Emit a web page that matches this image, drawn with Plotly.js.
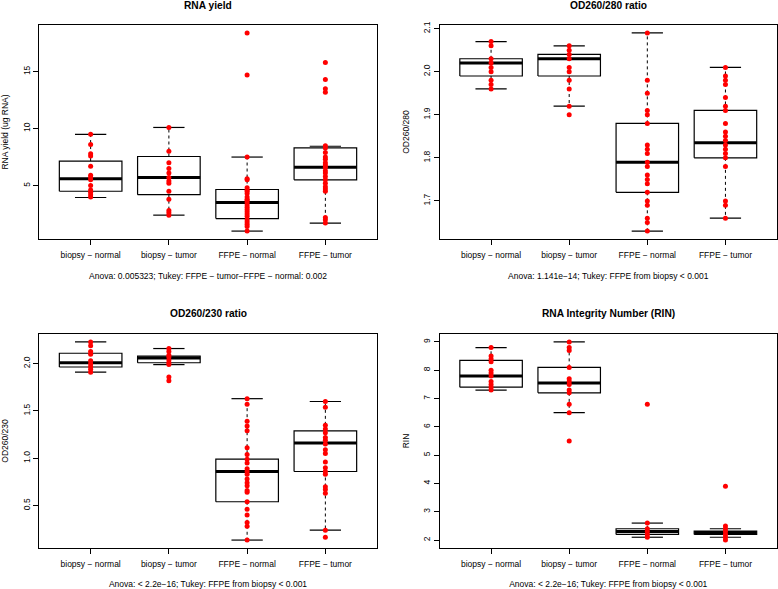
<!DOCTYPE html>
<html>
<head>
<meta charset="utf-8">
<script src="https://cdn.plot.ly/plotly-3.0.1.min.js"></script>
<style>html,body{margin:0;padding:0;background:#fff;}#chart{width:778px;height:589px;}</style>
</head>
<body>
<div id="chart"></div>
<script>
// ---------- data ----------
const categories = ["biopsy \u2212 normal", "biopsy \u2212 tumor", "FFPE \u2212 normal", "FFPE \u2212 tumor"];

const panelTitles = ["RNA yield", "OD260/280 ratio", "OD260/230 ratio", "RNA Integrity Number (RIN)"];
const yTitles = ["RNA yield (ug RNA)", "OD260/280", "OD260/230", "RIN"];
const captions = [
  "Anova: 0.005323; Tukey: FFPE \u2212 tumor\u2212FFPE \u2212 normal: 0.002",
  "Anova: 1.141e\u221214; Tukey: FFPE from biopsy < 0.001",
  "Anova: < 2.2e\u221216; Tukey: FFPE from biopsy < 0.001",
  "Anova: < 2.2e\u221216; Tukey: FFPE from biopsy < 0.001"
];

// RNA yield
const yield_bn = [9.5, 8.6, 7.8, 7.6, 6.7, 5.9, 5.7, 5.5, 5.0, 4.6, 4.4, 4.2, 4.0];
const yield_bt = [10.1, 8.0, 7.0, 6.5, 6.1, 5.7, 5.4, 5.2, 4.5, 3.8, 2.8, 2.6, 2.4];
const yield_fn = [18.4, 14.7, 7.5, 5.6, 5.5, 4.8, 4.6, 4.5, 4.3, 4.0, 3.8, 3.7, 3.5, 3.3, 3.1, 2.9, 2.7, 2.5, 2.3, 2.0, 1.8, 1.6, 1.4, 1.0];
const yield_ft = [15.8, 14.3, 13.5, 13.2, 8.5, 8.3, 7.9, 7.5, 7.3, 7.0, 6.8, 6.6, 6.3, 6.1, 5.8, 5.5, 5.2, 4.9, 4.7, 4.5, 2.2, 2.0, 1.7];
const yield_q1  = [4.5, 4.2, 2.1, 5.5];
const yield_med = [5.6, 5.7, 3.5, 6.6];
const yield_q3  = [7.15, 7.55, 4.65, 8.3];
const yield_lo  = [3.95, 2.4, 1.0, 1.7];
const yield_hi  = [9.5, 10.1, 7.5, 8.45];

// OD260/280
const r280_bn = [2.07, 2.06, 2.03, 2.02, 2.01, 2.00, 1.98, 1.97, 1.96];
const r280_bt = [2.06, 2.05, 2.04, 2.03, 2.01, 2.00, 1.98, 1.96, 1.92, 1.90];
const r280_fn = [2.09, 1.98, 1.95, 1.91, 1.90, 1.88, 1.83, 1.82, 1.81, 1.79, 1.78, 1.76, 1.75, 1.74, 1.72, 1.70, 1.69, 1.66, 1.65, 1.63];
const r280_ft = [2.01, 1.99, 1.98, 1.97, 1.94, 1.92, 1.91, 1.88, 1.86, 1.85, 1.84, 1.83, 1.82, 1.81, 1.80, 1.78, 1.70, 1.69, 1.66];
const r280_q1  = [1.99, 1.99, 1.72, 1.80];
const r280_med = [2.02, 2.03, 1.79, 1.835];
const r280_q3  = [2.03, 2.04, 1.88, 1.91];
const r280_lo  = [1.96, 1.92, 1.63, 1.66];
const r280_hi  = [2.07, 2.06, 2.09, 2.01];

// OD260/230
const r230_bn = [2.23, 2.19, 2.13, 2.10, 2.03, 2.00, 1.97, 1.94, 1.91];
const r230_bt = [2.16, 2.13, 2.09, 2.07, 2.04, 2.01, 1.99, 1.86, 1.82];
const r230_fn = [1.63, 1.57, 1.39, 1.34, 1.29, 1.11, 1.04, 0.99, 0.95, 0.89, 0.86, 0.83, 0.78, 0.74, 0.71, 0.66, 0.64, 0.54, 0.46, 0.40, 0.32, 0.28, 0.135];
const r230_ft = [1.60, 1.54, 1.35, 1.31, 1.27, 1.22, 1.19, 1.15, 1.09, 1.05, 0.96, 0.90, 0.86, 0.83, 0.70, 0.67, 0.63, 0.24, 0.165];
const r230_q1  = [1.965, 2.01, 0.54, 0.86];
const r230_med = [2.01, 2.06, 0.86, 1.16];
const r230_q3  = [2.11, 2.08, 0.99, 1.29];
const r230_lo  = [1.91, 1.99, 0.135, 0.24];
const r230_hi  = [2.23, 2.16, 1.63, 1.60];

// RIN
const rin_bn = [8.8, 8.5, 8.4, 8.3, 8.0, 7.9, 7.8, 7.6, 7.5, 7.4, 7.3];
const rin_bt = [9.0, 8.8, 8.7, 8.1, 7.7, 7.6, 7.5, 7.3, 7.2, 6.8, 6.5, 5.5];
const rin_fn = [6.8, 2.6, 2.4, 2.3, 2.2, 2.1];
const rin_ft = [3.9, 2.5, 2.4, 2.3, 2.2, 2.1, 2.0];
const rin_q1  = [7.4, 7.2, 2.2, 2.2];
const rin_med = [7.8, 7.55, 2.3, 2.27];
const rin_q3  = [8.35, 8.1, 2.4, 2.32];
const rin_lo  = [7.3, 6.5, 2.1, 2.1];
const rin_hi  = [8.8, 9.0, 2.6, 2.4];

// ---------- build ----------
const panels = [
  {pts: [yield_bn, yield_bt, yield_fn, yield_ft], q1: yield_q1, med: yield_med, q3: yield_q3, lo: yield_lo, hi: yield_hi},
  {pts: [r280_bn, r280_bt, r280_fn, r280_ft], q1: r280_q1, med: r280_med, q3: r280_q3, lo: r280_lo, hi: r280_hi},
  {pts: [r230_bn, r230_bt, r230_fn, r230_ft], q1: r230_q1, med: r230_med, q3: r230_q3, lo: r230_lo, hi: r230_hi},
  {pts: [rin_bn, rin_bt, rin_fn, rin_ft], q1: rin_q1, med: rin_med, q3: rin_q3, lo: rin_lo, hi: rin_hi}
];
const yTicks = [[5, 10, 15], [1.7, 1.8, 1.9, 2.0, 2.1], [0.5, 1.0, 1.5, 2.0], [2, 3, 4, 5, 6, 7, 8, 9]];
const yFmt = ["", ".1f", ".1f", ""];

const FONT = "Liberation Sans, Arial, Helvetica, sans-serif";
const HALF = 0.4, CAP = 0.2;
const traces = [];
const layout = {
  width: 778, height: 589,
  margin: {l: 39, r: 1, t: 25, b: 41},
  paper_bgcolor: "#ffffff", plot_bgcolor: "#ffffff",
  showlegend: false,
  font: {family: FONT, size: 8.5, color: "#000"},
  annotations: []
};
const xDom = [[0, 0.458], [0.5427, 1]];
const yDom = [[0.5908, 1], [0, 0.4092]];
const titleY = [1.0382, 0.4493];

panels.forEach((p, k) => {
  const xa = k === 0 ? "x" : "x" + (k + 1);
  const ya = k === 0 ? "y" : "y" + (k + 1);
  const bx = [], by = [], mx = [], my = [], wx = [], wy = [], cx = [], cy = [], px = [], py = [];
  categories.forEach((c, g) => {
    const x = g + 1;
    bx.push(x - HALF, x + HALF, x + HALF, x - HALF, x - HALF, null);
    by.push(p.q1[g], p.q1[g], p.q3[g], p.q3[g], p.q1[g], null);
    mx.push(x - HALF, x + HALF, null);
    my.push(p.med[g], p.med[g], null);
    wx.push(x, x, null, x, x, null);
    wy.push(p.q3[g], p.hi[g], null, p.q1[g], p.lo[g], null);
    cx.push(x - CAP, x + CAP, null, x - CAP, x + CAP, null);
    cy.push(p.hi[g], p.hi[g], null, p.lo[g], p.lo[g], null);
    p.pts[g].forEach(v => { px.push(x); py.push(v); });
  });
  const common = {xaxis: xa, yaxis: ya, hoverinfo: "skip", type: "scatter"};
  traces.push(Object.assign({x: wx, y: wy, mode: "lines", line: {color: "#000", width: 1, dash: "3px,3px"}}, common));
  traces.push(Object.assign({x: bx, y: by, mode: "lines", line: {color: "#000", width: 1.2}}, common));
  traces.push(Object.assign({x: cx, y: cy, mode: "lines", line: {color: "#000", width: 1.2}}, common));
  traces.push(Object.assign({x: mx, y: my, mode: "lines", line: {color: "#000", width: 3}}, common));
  traces.push(Object.assign({x: px, y: py, mode: "markers", marker: {color: "#ff0000", size: 5, line: {width: 0}}}, common));

  const all = py.concat(p.lo, p.hi);
  const mn = Math.min(...all), mxv = Math.max(...all), pad = (mxv - mn) * 0.04;
  const col = k % 2, row = Math.floor(k / 2);
  const xkey = k === 0 ? "xaxis" : "xaxis" + (k + 1);
  const ykey = k === 0 ? "yaxis" : "yaxis" + (k + 1);
  layout[xkey] = {
    domain: xDom[col], anchor: ya, range: [0.34, 4.66],
    tickvals: [1, 2, 3, 4], ticktext: categories,
    ticks: "outside", ticklen: 5, tickwidth: 1, tickcolor: "#000", ticklabelstandoff: 3,
    showline: true, mirror: true, linecolor: "#000", linewidth: 1,
    showgrid: false, zeroline: false,
    tickfont: {family: FONT, size: 8.5, color: "#000"},
    title: {text: captions[k], font: {family: FONT, size: 8.5, color: "#000"}, standoff: 13}
  };
  layout[ykey] = {
    domain: yDom[row], anchor: xa, range: [mn - pad, mxv + pad],
    tickvals: yTicks[k], tickformat: yFmt[k], tickangle: -90,
    ticks: "outside", ticklen: 5, tickwidth: 1, tickcolor: "#000",
    showline: true, mirror: true, linecolor: "#000", linewidth: 1,
    showgrid: false, zeroline: false,
    tickfont: {family: FONT, size: 8.5, color: "#000"},
    title: {text: yTitles[k], font: {family: FONT, size: 8.5, color: "#000"}, standoff: 11}
  };
  layout.annotations.push({
    text: "<b>" + panelTitles[k] + "</b>", xref: "paper", yref: "paper",
    x: (xDom[col][0] + xDom[col][1]) / 2, y: titleY[row], xanchor: "center", yanchor: "middle",
    showarrow: false, font: {family: FONT, size: 10.2, color: "#000"}
  });
});

Plotly.newPlot("chart", traces, layout, {staticPlot: true, displayModeBar: false});
</script>
</body>
</html>
